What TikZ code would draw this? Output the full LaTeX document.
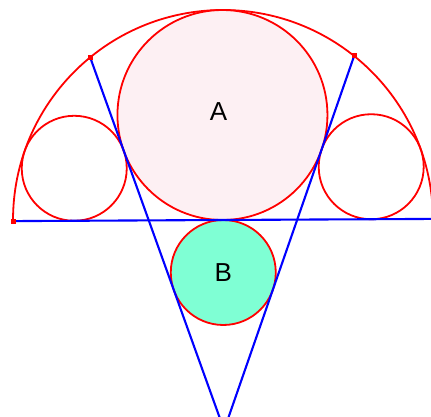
\documentclass[tikz,border=0pt]{standalone}
\usepackage{fontspec}
\setmainfont{Liberation Sans}
\definecolor{pinkfill}{RGB}{253,240,243}
\definecolor{aquafill}{RGB}{127,255,212}
\begin{document}
\begin{tikzpicture}[x=1pt,y=1pt,
  redline/.style={draw=red,line width=1.8pt},
  blueline/.style={draw=blue,line width=2.1pt},
  circ/.style={circle,inner sep=0pt,draw=red,line width=1.8pt,minimum size=#1},
  sq/.style={fill=red,inner sep=0pt,minimum size=5pt},
  lbl/.style={font=\fontsize{26}{30}\selectfont}]
\useasboundingbox (0,0) rectangle (431,416);
\clip (0,0) rectangle (431,416);
\begin{scope}[shift={(223,196)},rotate=0.3]
  \coordinate (O) at (0,0);
  \coordinate (L) at (-210,0);
  \coordinate (R) at (210,0);
  \coordinate (E) at (0,-210);
  \coordinate (P1) at (128.94:210);
  \coordinate (P2) at (51.06:210);
  % semicircle arc
  \draw[redline] (L) arc[start angle=180,end angle=0,radius=210];
  % circles
  \node[circ=210pt,fill=pinkfill] (A) at (0,105) {};
  \node[lbl] (tA) at ([shift={(-4,3)}]A.center) {A};
  \node[circ=105pt,fill=aquafill,lbl] (B) at (0,-52.5) {B};
  \node[circ=105pt] (C1) at (-148.49,52.5) {};
  \node[circ=105pt] (C2) at (148.49,52.5) {};
  % blue lines
  \draw[blueline] (L) -- (R);
  \draw[blueline] (P1) -- (E);
  \draw[blueline] (P2) -- (E);
  % points
  \node[sq] (SL) at (L) {};
  \node[sq] (S1) at (P1) {};
  \node[sq] (S2) at (P2) {};
\end{scope}
\end{tikzpicture}
\end{document}
